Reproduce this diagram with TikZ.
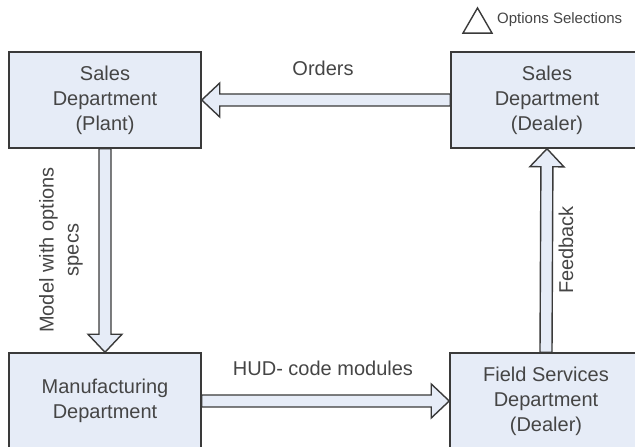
\documentclass[tikz,border=0pt]{standalone}
\usepackage{fontspec}
\setmainfont{Liberation Sans}
\usetikzlibrary{calc,shapes.geometric}
\definecolor{boxfill}{HTML}{E6ECF7}
\definecolor{edge}{HTML}{3A3A3A}
\definecolor{ink}{HTML}{454545}

\begin{document}
\begin{tikzpicture}[x=1pt,y=1pt,
	dept/.style={draw=edge, fill=boxfill, line width=1.5pt, minimum width=192pt, minimum height=96pt,
		align=center, text=ink, font=\fontsize{20}{25}\selectfont},
	lbl/.style={text=ink, align=center, inner sep=0pt, font=\fontsize{20}{25}\selectfont},
	% hollow block arrow from start to target
	flow/.style={draw=edge, fill=boxfill, line width=1.4pt, to path={
		($(\tikztostart)!6pt!90:(\tikztotarget)$)
		-- ($(\tikztotarget)!18pt!(\tikztostart)!6pt!90:(\tikztotarget)$)
		-- ($(\tikztotarget)!18pt!(\tikztostart)!17pt!90:(\tikztotarget)$)
		-- (\tikztotarget)
		-- ($(\tikztotarget)!18pt!(\tikztostart)!17pt!-90:(\tikztotarget)$)
		-- ($(\tikztotarget)!18pt!(\tikztostart)!6pt!-90:(\tikztotarget)$)
		-- ($(\tikztostart)!6pt!-90:(\tikztotarget)$) -- cycle}}]
	\useasboundingbox (0,0) rectangle (635,447);
	\clip (0,0) rectangle (635,447);

	% departments
	\node[dept] (plant) at (105,347) {Sales\\Department\\(Plant)};
	\node[dept] (dealer) at (547,347) {Sales\\Department\\(Dealer)};
	\node[dept] (mfg) at (105,46) {Manufacturing\\Department};
	\node[dept] (field) at (546,46) {Field Services\\Department\\(Dealer)};

	% flows between them
	\draw[flow] (dealer.west) to (plant.east);
	\draw[flow] (plant.south) to (mfg.north);
	\draw[flow] (mfg.east) to (field.west);
	\draw[flow] (field.north) to (dealer.south);

	\node[lbl] (orders) at (323,379) {Orders};
	\node[lbl] (hud) at (323,79) {HUD- code modules};
	\node[lbl, rotate=90] (specs) at (61,197) {Model with options\\specs};
	\node[lbl, rotate=90] (feedback) at (566,197) {Feedback};

	% legend
	\node[draw=edge, fill=white, line width=1.4pt, regular polygon, regular polygon sides=3,
		minimum size=33.5pt, inner sep=0pt] (legend) at (477.5,422.3) {};
	\node[lbl, anchor=west, font=\fontsize{15}{18}\selectfont] (legendtext) at (497,427) {Options Selections};
\end{tikzpicture}
\end{document}
